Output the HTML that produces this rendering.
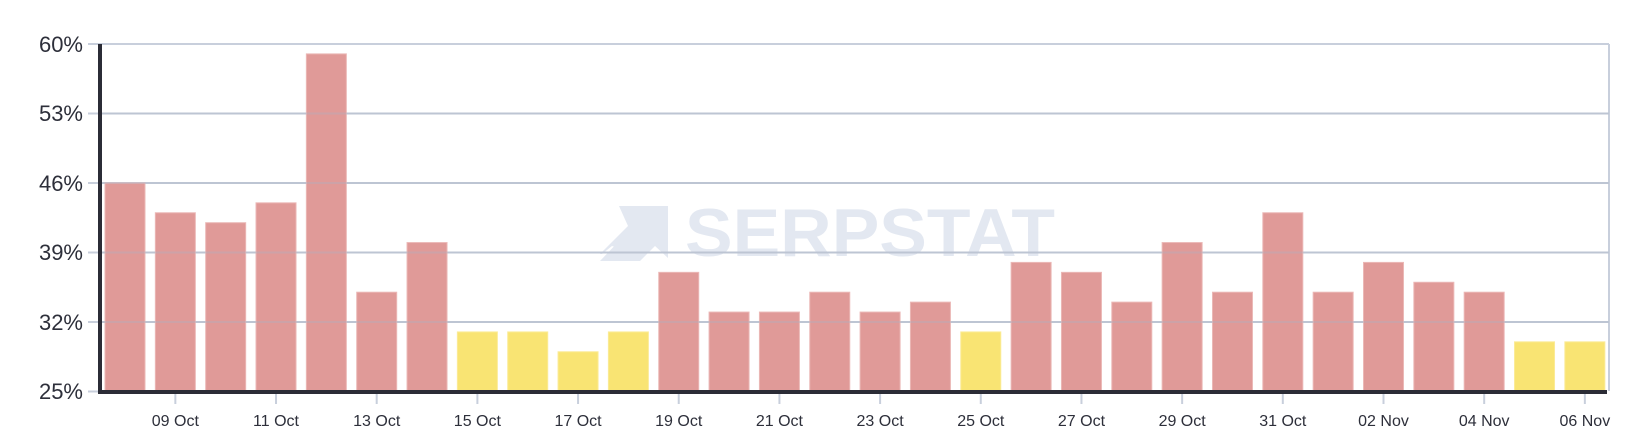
<!DOCTYPE html>
<html><head><meta charset="utf-8"><style>
html,body{margin:0;padding:0;background:#fff;}
svg{display:block;}
text{font-family:"Liberation Sans",sans-serif;}
</style></head><body>
<svg width="1640" height="444" viewBox="0 0 1640 444" xmlns="http://www.w3.org/2000/svg">
<g fill="#e3e8f1">
<text x="685" y="256" font-size="68" font-weight="bold" textLength="370" lengthAdjust="spacingAndGlyphs">SERPSTAT</text>
<path d="M619 206 L668 206 L668 258 L655 246 L640 261 L600 261 L622 238 L638 238 L651 226 L665 218 L665 230 L651 239 L640 248 L630 244 L622 249 L612 246 L602 254 L600 254 L628 226 Z"/>
</g>
<g id="grid" stroke="#c8cfdc" stroke-width="2">
<line x1="88" y1="44" x2="1609" y2="44"/>
<line x1="88" y1="113.5" x2="1609" y2="113.5"/>
<line x1="88" y1="183" x2="1609" y2="183"/>
<line x1="88" y1="252.5" x2="1609" y2="252.5"/>
<line x1="88" y1="322" x2="1609" y2="322"/>
<line x1="88" y1="391.5" x2="100" y2="391.5"/>
<line x1="1609" y1="44" x2="1609" y2="391"/>
</g>
<g id="bars"></g>
<g stroke="#aab3c4" stroke-width="2" opacity="0.35">
<line x1="100" y1="113.5" x2="1609" y2="113.5"/>
<line x1="100" y1="183" x2="1609" y2="183"/>
<line x1="100" y1="252.5" x2="1609" y2="252.5"/>
<line x1="100" y1="322" x2="1609" y2="322"/>
</g>
<line x1="100" y1="44" x2="100" y2="393" stroke="#2b2c36" stroke-width="4"/>
<line x1="98" y1="392" x2="1607" y2="392" stroke="#2b2c36" stroke-width="4"/>
<g id="ticks" stroke="#c8cfdc" stroke-width="2"></g>
<g font-size="22" fill="#2d2f3a" text-anchor="end">
<text x="83" y="52">60%</text>
<text x="83" y="121">53%</text>
<text x="83" y="191">46%</text>
<text x="83" y="260">39%</text>
<text x="83" y="330">32%</text>
<text x="83" y="399">25%</text>
</g>
<g id="xl" font-size="16" fill="#2d2f3a" text-anchor="middle"></g>
</svg>
<script>
var v=[46,43,42,44,59,35,40,31,31,29,31,37,33,33,35,33,34,31,38,37,34,40,35,43,35,38,36,35,30,30];
var yel=[7,8,9,10,17,28,29];
var ns="http://www.w3.org/2000/svg";
var b=document.getElementById("bars"),t=document.getElementById("ticks"),xl=document.getElementById("xl");
var labels=["09 Oct","11 Oct","13 Oct","15 Oct","17 Oct","19 Oct","21 Oct","23 Oct","25 Oct","27 Oct","29 Oct","31 Oct","02 Nov","04 Nov","06 Nov"];
for(var i=0;i<30;i++){
 var x=105+i*50.34,y=391.5-(v[i]-25)*9.93;
 var r=document.createElementNS(ns,"rect");
 r.setAttribute("x",x);r.setAttribute("y",y);r.setAttribute("width",40);r.setAttribute("height",391.5-y);
 var isY=yel.indexOf(i)>=0;
 r.setAttribute("fill",isY?"#f9e473":"#e09a98");
 r.setAttribute("stroke",isY?"#fbeb96":"#ebb8b6");r.setAttribute("stroke-width","1");
 b.appendChild(r);
 if(i%2==1){
  var cx=x+20;
  var l=document.createElementNS(ns,"line");
  l.setAttribute("x1",cx);l.setAttribute("x2",cx);l.setAttribute("y1",394);l.setAttribute("y2",404);
  t.appendChild(l);
  var tx=document.createElementNS(ns,"text");
  tx.setAttribute("x",cx);tx.setAttribute("y",426);tx.textContent=labels[(i-1)/2];
  xl.appendChild(tx);
 }
}
</script>
</body></html>
